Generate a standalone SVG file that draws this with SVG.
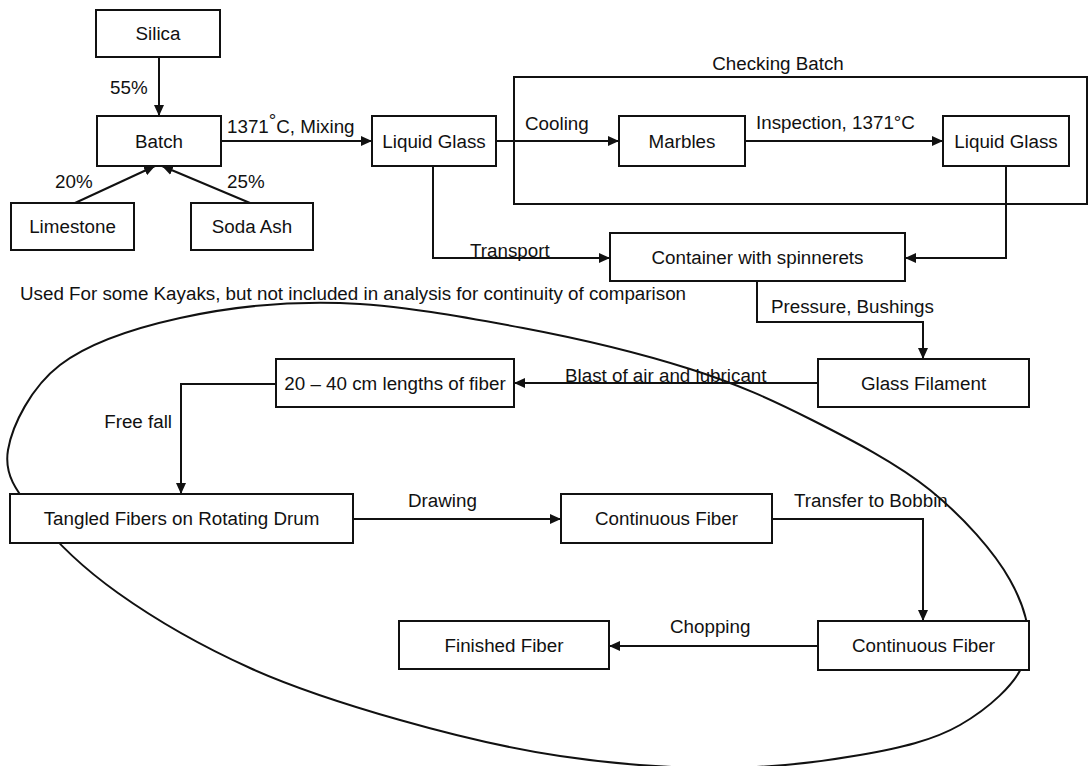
<svg xmlns="http://www.w3.org/2000/svg" width="1090" height="766" viewBox="0 0 1090 766">
<defs>
<style>
.box{fill:#fff;stroke:#111;stroke-width:2}
.t{font-family:"Liberation Sans",Arial,sans-serif;font-size:18.8px;fill:#111}
.c{text-anchor:middle}
.e{text-anchor:end}
.ln{fill:none;stroke:#111;stroke-width:2}
.arr{marker-end:url(#ah)}
</style>
<marker id="ah" markerUnits="userSpaceOnUse" markerWidth="11" markerHeight="10" refX="11" refY="5" orient="auto">
<path d="M0,0 L11,5 L0,10 z" fill="#111"/>
</marker>
</defs>
<rect width="1090" height="766" fill="#fff"/>

<g id="checking-batch">
<rect x="514" y="77" width="573" height="127" class="box" fill="none" style="fill:none"/>
<text x="778" y="70" class="t c">Checking Batch</text>
</g>

<g id="outline">
<path class="ln" d="M8,450 C12.2,425 31.3,387 60,365 C88.7,343 133.3,328.3 180,318 C226.7,307.7 282.8,301.3 340,303 C397.2,304.7 464.7,317 523,328 C581.3,339 641.8,353.7 690,369 C738.2,384.3 772,399.8 812,420 C852,440.2 897,463.3 930,490 C963,516.7 994.2,551.7 1010,580 C1025.8,608.3 1033.3,635.8 1025,660 C1016.7,684.2 987.5,709.2 960,725 C932.5,740.8 900,747.8 860,755 C820,762.2 770,767.8 720,768 C670,768.2 613.3,764 560,756 C506.7,748 451.7,734.7 400,720 C348.3,705.3 297,689.2 250,668 C203,646.8 153.8,618.5 118,593 C82.2,567.5 53.3,538.8 35,515 C16.7,491.2 3.8,475 8,450 Z"/>
<text x="20" y="300" class="t">Used For some Kayaks, but not included in analysis for continuity of comparison</text>
</g>

<g id="connectors">
<line x1="159" y1="57" x2="159" y2="116" class="ln arr"/>
<text x="110" y="94" class="t">55%</text>
<line x1="75" y1="203" x2="155" y2="166" class="ln arr"/>
<text x="55" y="188" class="t">20%</text>
<line x1="250" y1="203" x2="162" y2="166" class="ln arr"/>
<text x="227" y="188" class="t">25%</text>
<line x1="221" y1="141" x2="372" y2="141" class="ln arr"/>
<text x="227" y="133" class="t">1371<tspan dy="-6">°</tspan><tspan dy="6">C, Mixing</tspan></text>
<line x1="496" y1="141" x2="619" y2="141" class="ln arr"/>
<text x="525" y="130" class="t">Cooling</text>
<line x1="745" y1="141" x2="943" y2="141" class="ln arr"/>
<text x="756" y="129" class="t">Inspection, 1371°C</text>
<polyline points="433,166 433,258 610,258" class="ln arr"/>
<text x="470" y="257" class="t">Transport</text>
<polyline points="1006,166 1006,258 905,258" class="ln arr"/>
<polyline points="757,281 757,322 923,322 923,359" class="ln arr"/>
<text x="771" y="313" class="t">Pressure, Bushings</text>
<line x1="818" y1="383" x2="514" y2="383" class="ln arr"/>
<text x="565" y="382" class="t">Blast of air and lubricant</text>
<polyline points="276,384 181,384 181,494" class="ln arr"/>
<text x="172" y="428" class="t e">Free fall</text>
<line x1="353" y1="519" x2="561" y2="519" class="ln arr"/>
<text x="408" y="507" class="t">Drawing</text>
<polyline points="772,519 923,519 923,621" class="ln arr"/>
<text x="794" y="507" class="t">Transfer to Bobbin</text>
<line x1="818" y1="646" x2="609" y2="646" class="ln arr"/>
<text x="670" y="633" class="t">Chopping</text>
</g>

<g id="silica"><rect x="96" y="10" width="124" height="47" class="box"/><text x="158" y="40" class="t c">Silica</text></g>
<g id="batch"><rect x="97" y="116" width="124" height="50" class="box"/><text x="159" y="147.5" class="t c">Batch</text></g>
<g id="limestone"><rect x="11" y="203" width="123" height="47" class="box"/><text x="72.5" y="233" class="t c">Limestone</text></g>
<g id="soda-ash"><rect x="191" y="203" width="122" height="47" class="box"/><text x="252" y="233" class="t c">Soda Ash</text></g>
<g id="liquid-glass-1"><rect x="372" y="116" width="124" height="50" class="box"/><text x="434" y="147.5" class="t c">Liquid Glass</text></g>
<g id="marbles"><rect x="619" y="116" width="126" height="50" class="box"/><text x="682" y="147.5" class="t c">Marbles</text></g>
<g id="liquid-glass-2"><rect x="943" y="116" width="126" height="50" class="box"/><text x="1006" y="147.5" class="t c">Liquid Glass</text></g>
<g id="container"><rect x="610" y="233" width="295" height="48" class="box"/><text x="757.5" y="264" class="t c">Container with spinnerets</text></g>
<g id="glass-filament"><rect x="818" y="359" width="211" height="48" class="box"/><text x="923.5" y="390" class="t c">Glass Filament</text></g>
<g id="lengths"><rect x="276" y="359" width="238" height="48" class="box"/><text x="395" y="390" class="t c">20 – 40 cm lengths of fiber</text></g>
<g id="tangled"><rect x="10" y="494" width="343" height="49" class="box"/><text x="181.5" y="525" class="t c">Tangled Fibers on Rotating Drum</text></g>
<g id="continuous-1"><rect x="561" y="494" width="211" height="49" class="box"/><text x="666.5" y="525" class="t c">Continuous Fiber</text></g>
<g id="continuous-2"><rect x="818" y="621" width="211" height="49" class="box"/><text x="923.5" y="652" class="t c">Continuous Fiber</text></g>
<g id="finished"><rect x="399" y="621" width="210" height="48" class="box"/><text x="504" y="651.5" class="t c">Finished Fiber</text></g>
</svg>
